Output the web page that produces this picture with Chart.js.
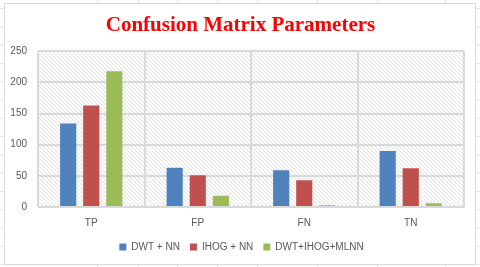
<!DOCTYPE html>
<html>
<head>
<meta charset="utf-8">
<script src="https://cdn.jsdelivr.net/npm/chart.js@4"></script>
<style>
  html, body { margin: 0; padding: 0; }
  body {
    width: 480px; height: 267px; overflow: hidden; background: #fff;
    position: relative;
    background-image:
      linear-gradient(to bottom, #e6e6e6 1px, transparent 1px);
    background-size: 100% 18.3px;
    background-position: 0 8px;
  }
  .col { position: absolute; top: 0; width: 1px; height: 267px; background: #e6e6e6; }
  #box {
    position: absolute; left: 4px; top: 3px; width: 470px; height: 260px;
    border: 1px solid #d9d9d9; background: #fff;
  }
  canvas { display: block; }
</style>
</head>
<body>
<div class="col" style="left:97px"></div>
<div class="col" style="left:138px"></div>
<div class="col" style="left:177px"></div>
<div class="col" style="left:217px"></div>
<div class="col" style="left:257px"></div>
<div class="col" style="left:317px"></div>
<div class="col" style="left:377px"></div>
<div class="col" style="left:445px"></div>
<div id="box"><canvas id="myChart" width="470" height="260"></canvas></div>
<script>
var categories = ['TP', 'FP', 'FN', 'TN'];
var dwtNN = [134, 63, 59, 90];
var ihogNN = [163, 51, 43, 62];
var dwtIhogMLNN = [218, 18, 3, 6];
var yTicks = [0, 50, 100, 150, 200, 250];

window.onload = function() {
  var ctx = document.getElementById('myChart').getContext('2d');

  // diagonal hatch for the plot area
  var pc = document.createElement('canvas');
  pc.width = 4; pc.height = 4;
  var p = pc.getContext('2d');
  p.fillStyle = '#ffffff';
  p.fillRect(0, 0, 4, 4);
  p.strokeStyle = '#e2e2e2';
  p.lineWidth = 1;
  p.beginPath();
  p.moveTo(-1, -1); p.lineTo(5, 5);
  p.moveTo(-1, 3); p.lineTo(1, 5);
  p.moveTo(3, -1); p.lineTo(5, 1);
  p.stroke();
  var hatch = ctx.createPattern(pc, 'repeat');

  var hatchPlugin = {
    id: 'hatch',
    beforeDraw: function(chart) {
      var a = chart.chartArea;
      chart.ctx.save();
      chart.ctx.fillStyle = hatch;
      chart.ctx.fillRect(a.left, a.top, a.right - a.left, a.bottom - a.top);
      chart.ctx.restore();
    }
  };

  // squeeze the legend band so the plot reaches further down,
  // and centre title + legend on the whole chart box
  var legendSqueeze = {
    id: 'legendSqueeze',
    beforeInit: function(chart) {
      var lg = chart.legend;
      if (!lg) return;
      var fit = lg.fit;
      lg.fit = function() { fit.call(this); this.height -= 7; };
    },
    afterLayout: function(chart) {
      var lg = chart.legend;
      if (lg) {
        lg.top -= 7; lg.bottom -= 7;
        lg.left += 7; lg.right += 7;
      }
      var tb = chart.titleBlock;
      if (tb) { tb.left += 6; tb.right += 6; }
    }
  };

  var myChart = new Chart(ctx, {
    type: 'bar',
    data: {
      labels: categories,
      datasets: [
        { label: 'DWT + NN', data: dwtNN, backgroundColor: '#4f81bd' },
        { label: 'IHOG + NN', data: ihogNN, backgroundColor: '#c0504d' },
        { label: 'DWT+IHOG+MLNN', data: dwtIhogMLNN, backgroundColor: '#9bbb59' }
      ]
    },
    plugins: [hatchPlugin, legendSqueeze],
    options: {
      responsive: false,
      animation: false,
      layout: { padding: { left: 0, right: 11, top: 0, bottom: 2 } },
      datasets: { bar: { categoryPercentage: 0.65, barPercentage: 0.7 } },
      plugins: {
        title: {
          display: true,
          text: 'Confusion Matrix Parameters',
          color: '#ff0000',
          font: { family: 'Liberation Serif', size: 21, weight: 'bold' },
          padding: { top: 9, bottom: 13 }
        },
        legend: {
          position: 'bottom',
          labels: {
            boxWidth: 7, boxHeight: 7, color: '#595959',
            font: { family: 'Liberation Sans', size: 10 },
            padding: 10
          }
        },
        tooltip: { enabled: false }
      },
      scales: {
        x: {
          grid: { color: '#d9d9d9', lineWidth: 2, drawTicks: false },
          border: { display: false },
          ticks: { color: '#595959', font: { family: 'Liberation Sans', size: 10 }, padding: 10 }
        },
        y: {
          min: 0, max: 250,
          afterBuildTicks: function(s) { s.ticks = yTicks.map(function(v) { return { value: v }; }); },
          afterFit: function(s) { s.width = 33; },
          grid: { color: '#d9d9d9', lineWidth: 2, drawTicks: false },
          border: { display: false },
          ticks: { color: '#595959', font: { family: 'Liberation Sans', size: 10 }, padding: 11 }
        }
      }
    }
  });
};
</script>
</body>
</html>
